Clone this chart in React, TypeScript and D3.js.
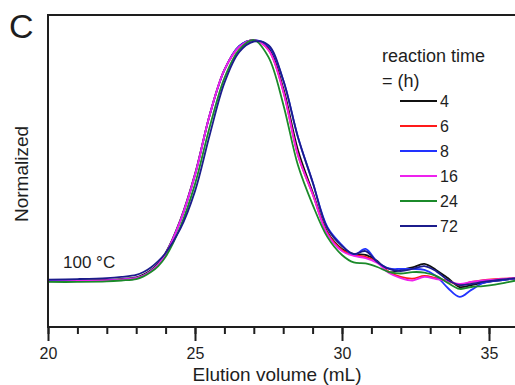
import * as d3 from 'd3';
import React, { useEffect, useRef } from 'react';

// elution volume grid (mL)
const volumes = [20, 21, 22, 22.5, 23, 23.25, 23.5, 23.75, 24, 24.5, 25, 25.5, 26, 26.5, 27, 27.5, 28, 28.5, 29, 29.5, 30, 30.4, 30.8, 31.2, 31.6, 32, 32.4, 32.8, 33.2, 33.6, 34, 34.4, 34.8, 35.2, 35.6, 36];

// normalized signal (% of peak) per reaction time
const h4 = [0.2, 0.2, 0.4, 0.8, 1.5, 2.7, 4.5, 7.2, 11.6, 25.3, 44.4, 68.9, 87.6, 97.5, 100, 96.7, 80.1, 54.4, 36.9, 20.3, 13.3, 11.2, 10.8, 8.3, 3.7, 4.6, 5.6, 7.1, 4.6, 1.2, -2.5, -1.7, -0.8, 0, 0.6, 1.2];
const h6 = [0, 0, 0.2, 0.6, 1.2, 2.3, 4.1, 6.8, 11.2, 24.9, 44.0, 68.9, 87.6, 97.1, 100, 95.9, 78.8, 52.3, 36.1, 19.9, 12.9, 10.8, 10.0, 7.9, 3.7, 1.7, 1.0, 2.1, 1.2, 0, -1.7, -0.4, 0.4, 0.8, 1.0, 1.2];
const h8 = [0, 0, 0.2, 0.6, 1.2, 2.3, 4.1, 6.8, 11.2, 24.9, 44.0, 68.9, 87.6, 97.5, 100, 97.5, 83.4, 59.8, 41.1, 22.4, 14.9, 10.8, 13.3, 7.9, 5.2, 5.0, 5.0, 4.6, 2.1, -2.9, -6.6, -3.7, -0.8, 0, 0.6, 1.2];
const h16 = [-0.2, 0, 0.2, 0.6, 1.2, 2.3, 4.1, 6.8, 11.2, 24.9, 44.0, 68.9, 87.6, 97.1, 100, 95.9, 78.8, 52.3, 36.1, 19.5, 12.4, 10.4, 9.5, 7.5, 3.3, 1.2, 0.2, 1.7, 0.8, 0, -1.2, -0.4, 0.2, 0.6, 1.0, 1.2];
const h24 = [-0.4, -0.4, -0.2, 0.2, 0.8, 1.9, 3.7, 6.2, 10.0, 22.4, 40.2, 63.9, 84.2, 95.9, 100, 92.9, 73.4, 48.1, 31.7, 18.3, 10.8, 7.7, 7.3, 5.8, 3.7, 3.1, 3.7, 3.5, 2.1, -0.8, -3.3, -2.5, -2.1, -1.5, -0.6, 0.4];
const h72 = [0.6, 0.8, 1.2, 1.7, 2.5, 3.7, 5.6, 8.2, 11.6, 21.6, 37.3, 60.6, 82.2, 95.0, 99.4, 97.9, 83.4, 59.8, 41.1, 22.0, 14.5, 11.2, 12.4, 7.9, 5.0, 4.1, 5.0, 6.2, 4.1, 0.4, -1.7, -1.2, -0.4, 0.2, 0.8, 1.2];

const times = ['4', '6', '8', '16', '24', '72'];
const seriesValues = [h4, h6, h8, h16, h24, h72];
const colors = ['#111111', '#ff1a1a', '#2233ff', '#ee22ee', '#1b8a2a', '#1c1c8c'];

const majorTicks = [20, 25, 30, 35];

export default function App() {
  const svgRef = useRef(null);
  const width = 515;
  const height = 385;

  useEffect(() => {
    const svg = d3.select(svgRef.current);
    svg.selectAll('*').remove();

    const font = 'Liberation Sans, Arial, sans-serif';
    const ink = '#1e1e1e';
    const left = 48;
    const top = 15;
    const bottom = 327;

    const x = d3.scaleLinear().domain([20, 36]).range([left, 518.4]);
    const y = d3.scaleLinear().domain([-19.1, 110.4]).range([bottom, top]);

    // curves
    const line = d3
      .line()
      .x((d) => x(d[0]))
      .y((d) => y(d[1]))
      .curve(d3.curveCatmullRom.alpha(0.5));

    svg
      .append('g')
      .selectAll('path')
      .data(seriesValues)
      .enter()
      .append('path')
      .attr('d', (vals) => line(vals.map((v, i) => [volumes[i], v])))
      .attr('fill', 'none')
      .attr('stroke', (d, i) => colors[i])
      .attr('stroke-width', 1.8)
      .attr('stroke-linejoin', 'round');

    // frame
    svg.append('line')
      .attr('x1', left).attr('x2', width).attr('y1', top).attr('y2', top)
      .attr('stroke', ink).attr('stroke-width', 2);
    svg.append('line')
      .attr('x1', left).attr('x2', left).attr('y1', top - 1).attr('y2', bottom + 1)
      .attr('stroke', ink).attr('stroke-width', 2);

    // x axis: minor then major
    const minor = svg
      .append('g')
      .attr('transform', `translate(0,${bottom})`)
      .call(d3.axisBottom(x).tickValues(d3.range(20, 37, 1)).tickSize(7).tickFormat(() => ''));
    minor.select('.domain').remove();
    minor.selectAll('line').attr('stroke', ink).attr('stroke-width', 2);

    const major = svg
      .append('g')
      .attr('transform', `translate(0,${bottom})`)
      .call(d3.axisBottom(x).tickValues(majorTicks).tickSize(14).tickPadding(7).tickFormat(d3.format('d')));
    major.select('.domain').attr('stroke', ink).attr('stroke-width', 2).attr('d', `M${left},0H${width}`);
    major.selectAll('line').attr('stroke', ink).attr('stroke-width', 2);
    major.selectAll('text').attr('fill', ink).style('font-family', font).style('font-size', '16px');

    // titles
    svg.append('text')
      .attr('x', 277).attr('y', 381)
      .attr('text-anchor', 'middle')
      .style('font-family', font).style('font-size', '19px')
      .attr('fill', ink)
      .text('Elution volume (mL)');

    svg.append('text')
      .attr('transform', 'translate(28,174) rotate(-90)')
      .attr('text-anchor', 'middle')
      .style('font-family', font).style('font-size', '19px')
      .attr('fill', ink)
      .text('Normalized');

    svg.append('text')
      .attr('x', 9).attr('y', 38)
      .style('font-family', font).style('font-size', '34px')
      .attr('fill', ink)
      .text('C');

    svg.append('text')
      .attr('x', 63).attr('y', 268)
      .style('font-family', font).style('font-size', '17px')
      .attr('fill', ink)
      .text('100 °C');

    // legend
    const legend = svg.append('g').style('font-family', font).attr('fill', ink);
    legend.append('text').attr('x', 382).attr('y', 61.5).style('font-size', '18px').text('reaction time');
    legend.append('text').attr('x', 382).attr('y', 86.5).style('font-size', '18px').text('= (h)');

    const ly = d3.scaleLinear().domain([0, 1]).range([101, 126]);
    const items = legend.selectAll('g.item').data(times).enter().append('g').attr('class', 'item');
    items.append('line')
      .attr('x1', 400).attr('x2', 437)
      .attr('y1', (d, i) => ly(i)).attr('y2', (d, i) => ly(i))
      .attr('stroke', (d, i) => colors[i]).attr('stroke-width', 1.8);
    items.append('text')
      .attr('x', 440).attr('y', (d, i) => ly(i) + 6)
      .style('font-size', '16px')
      .text((d) => d);
  }, []);

  return (
    <svg
      ref={svgRef}
      width={width}
      height={height}
      style={{ position: 'absolute', left: 0, top: 0, background: '#fff' }}
    />
  );
}
